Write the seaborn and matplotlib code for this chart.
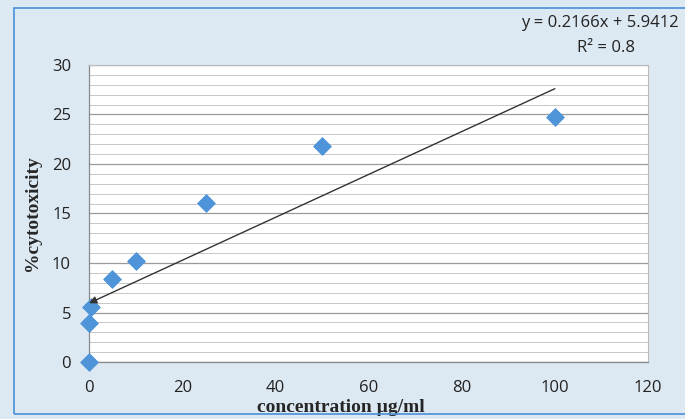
import numpy as np
import matplotlib
matplotlib.use("Agg")
import matplotlib.pyplot as plt
from matplotlib.patches import Rectangle
import seaborn as sns

# data
concentration = [0, 0, 0.5, 5, 10, 25, 50, 100]
cytotoxicity = [0.0, 3.9, 5.6, 8.4, 10.2, 16.1, 21.8, 24.7]
slope, intercept = 0.2166, 5.9412
r2_text = "R² = 0.8"
x_ticks = [0, 20, 40, 60, 80, 100, 120]
y_ticks = [0, 5, 10, 15, 20, 25, 30]

sns.set_style("white")
plt.rcParams["font.family"] = ["Open Sans", "DejaVu Sans"]

bg = "#dde9f2"
fig = plt.figure(figsize=(6.85, 4.19), dpi=100, facecolor=bg)
ax = fig.add_axes([0.13, 0.136, 0.816, 0.709])
ax.set_facecolor("white")

# figure border
fig.patches.append(Rectangle((0.02, 0.012), 0.99, 0.97, transform=fig.transFigure,
                             fill=False, edgecolor="#4a90d9", linewidth=1.2))

sns.scatterplot(x=concentration, y=cytotoxicity, marker="D", s=80,
                color="#4f94d9", edgecolor="#4f94d9", ax=ax, zorder=4, clip_on=False)

# linear trendline with arrow tip at the left end
x0, x1 = min(concentration), max(concentration)
ax.annotate("", xy=(x0, slope * x0 + intercept), xytext=(x1, slope * x1 + intercept),
            arrowprops=dict(arrowstyle="-|>", color="#333333", lw=1.0,
                            mutation_scale=11, shrinkA=0, shrinkB=0), zorder=5)

ax.set_xlim(0, 120)
ax.set_ylim(0, 30)
ax.set_xticks(x_ticks)
ax.set_yticks(y_ticks)
ax.set_yticks(np.arange(0, 31, 1), minor=True)
ax.grid(axis="y", which="major", color="#9a9a9a", linewidth=0.9)
ax.grid(axis="y", which="minor", color="#c8c8c8", linewidth=0.7)
ax.set_axisbelow(True)

for side in ["top", "right"]:
    ax.spines[side].set_color("#bbbbbb")
    ax.spines[side].set_linewidth(0.8)
for side in ["left", "bottom"]:
    ax.spines[side].set_color("#888888")
    ax.spines[side].set_linewidth(0.9)

ax.tick_params(axis="both", which="major", direction="out", length=5, width=0.8,
               color="#888888", labelsize=12, labelcolor="#222222", pad=8)
ax.tick_params(axis="y", which="minor", length=0)

ax.set_xlabel("concentration µg/ml", family=["Liberation Serif", "DejaVu Serif"],
              fontweight="bold", fontsize=14)
ax.xaxis.set_label_coords(0.45, -0.125)
ax.set_ylabel("%cytotoxicity", family=["Liberation Serif", "DejaVu Serif"],
              fontweight="bold", fontsize=14, labelpad=8)

fig.text(0.876, 0.965, f"y = {slope}x + {intercept}", ha="center", va="top",
         fontsize=12, color="#222222")
fig.text(0.884, 0.905, r2_text, ha="center", va="top", fontsize=12, color="#222222")

fig.savefig("out.png", dpi=100, facecolor=bg)
